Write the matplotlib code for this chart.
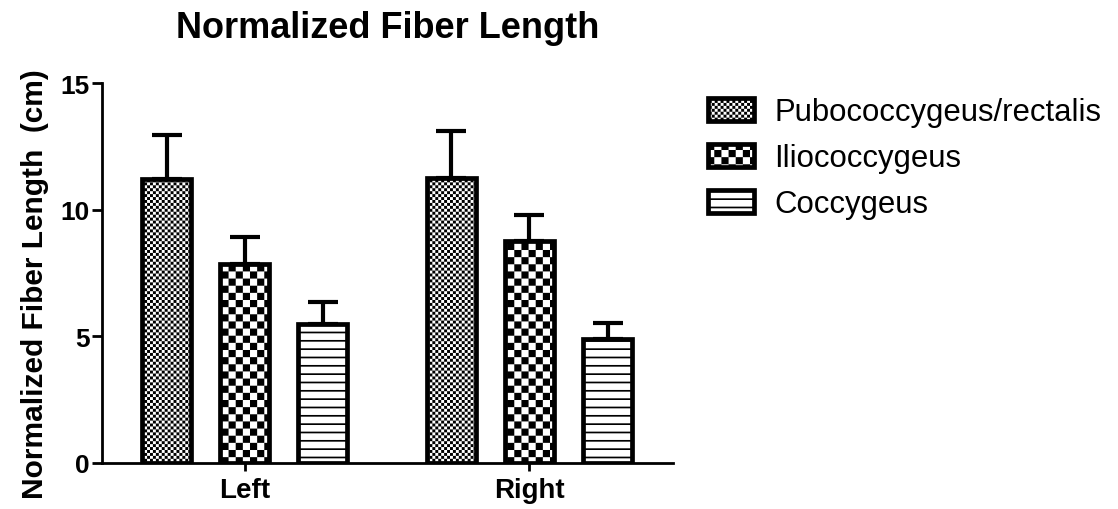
import warnings
import numpy as np
import matplotlib
matplotlib.use('Agg')
import matplotlib.pyplot as plt
from matplotlib import hatch as mhatch
from matplotlib.path import Path

warnings.filterwarnings('ignore')

groups = ['Left', 'Right']
muscles = ['Pubococcygeus/rectalis', 'Iliococcygeus', 'Coccygeus']
means = {
    'Pubococcygeus/rectalis': [11.2, 11.25],
    'Iliococcygeus': [7.85, 8.75],
    'Coccygeus': [5.5, 4.9],
}
errs = {
    'Pubococcygeus/rectalis': [1.75, 1.85],
    'Iliococcygeus': [1.07, 1.04],
    'Coccygeus': [0.86, 0.63],
}
hatches = {
    'Pubococcygeus/rectalis': 'k',   # fine checker
    'Iliococcygeus': 'c',            # coarse checker
    'Coccygeus': 'h',                # horizontal bands
}


# filled-block hatches (checkers and bands) that matplotlib does not ship
class BlockHatch(mhatch.HatchPatternBase):
    def __init__(self, hatch, density):
        rects = []
        n = 14 * hatch.count('c') + 34 * hatch.count('k')
        if n:
            s = 1.0 / n
            for i in range(n):
                for j in range(n):
                    if (i + j) % 2 == 0:
                        rects.append((i * s, j * s, s, s))
        nb = 12 * hatch.count('h')
        if nb:
            for i in range(nb):
                rects.append((0.0, i / nb, 1.0, 0.017))
        self.rects = rects
        self.num_vertices = 5 * len(rects)

    def set_vertices_and_codes(self, vertices, codes):
        for k, (x, y, w, h) in enumerate(self.rects):
            vertices[5 * k:5 * k + 5] = [[x, y], [x + w, y], [x + w, y + h],
                                         [x, y + h], [x, y]]
            codes[5 * k:5 * k + 5] = [Path.MOVETO, Path.LINETO, Path.LINETO,
                                      Path.LINETO, Path.CLOSEPOLY]


mhatch._hatch_types.append(BlockHatch)

plt.rcParams['font.family'] = ['Liberation Sans', 'DejaVu Sans']
plt.rcParams['hatch.linewidth'] = 0.01

fig = plt.figure(figsize=(11.18, 5.10), dpi=100)
ax = fig.add_axes([0.0912, 0.0902, 0.5108, 0.745])

centers = np.array([0.0, 3.65])
width = 0.63
for i, m in enumerate(muscles):
    ax.bar(centers + (i - 1), means[m], width,
           yerr=[np.zeros(len(groups)), errs[m]],
           color='white', edgecolor='black', linewidth=3.4,
           hatch=hatches[m], label=m, capsize=11,
           error_kw=dict(elinewidth=3, capthick=3, ecolor='black'))

ax.set_xlim(-1.83, 5.49)
ax.set_ylim(0, 15)
ax.set_yticks([0, 5, 10, 15])
ax.set_xticks(centers)
ax.set_xticklabels(groups, fontsize=20, fontweight='bold')
for t in ax.get_yticklabels():
    t.set_fontsize(19)
    t.set_fontweight('bold')

for s in ['top', 'right']:
    ax.spines[s].set_visible(False)
for s in ['left', 'bottom']:
    ax.spines[s].set_linewidth(2)
ax.tick_params(axis='y', length=7, width=2, pad=2)
ax.tick_params(axis='x', length=6, width=2, pad=4)

ax.set_ylabel('Normalized Fiber Length  (cm)', fontsize=21.5, fontweight='bold',
              va='center')
ax.yaxis.set_label_coords(-0.117, 0.474)

fig.text(388 / 1118, 1 - 28 / 510, 'Normalized Fiber Length', fontsize=26,
         fontweight='bold', ha='center', va='center')

fig.legend(loc='upper left', bbox_to_anchor=(0.633, 1 - 98 / 510),
           frameon=False, fontsize=22.4, handlelength=1.5, handleheight=0.77,
           handletextpad=0.65, labelspacing=0.52, borderpad=0,
           borderaxespad=0)

fig.savefig('out.png', dpi=100)
